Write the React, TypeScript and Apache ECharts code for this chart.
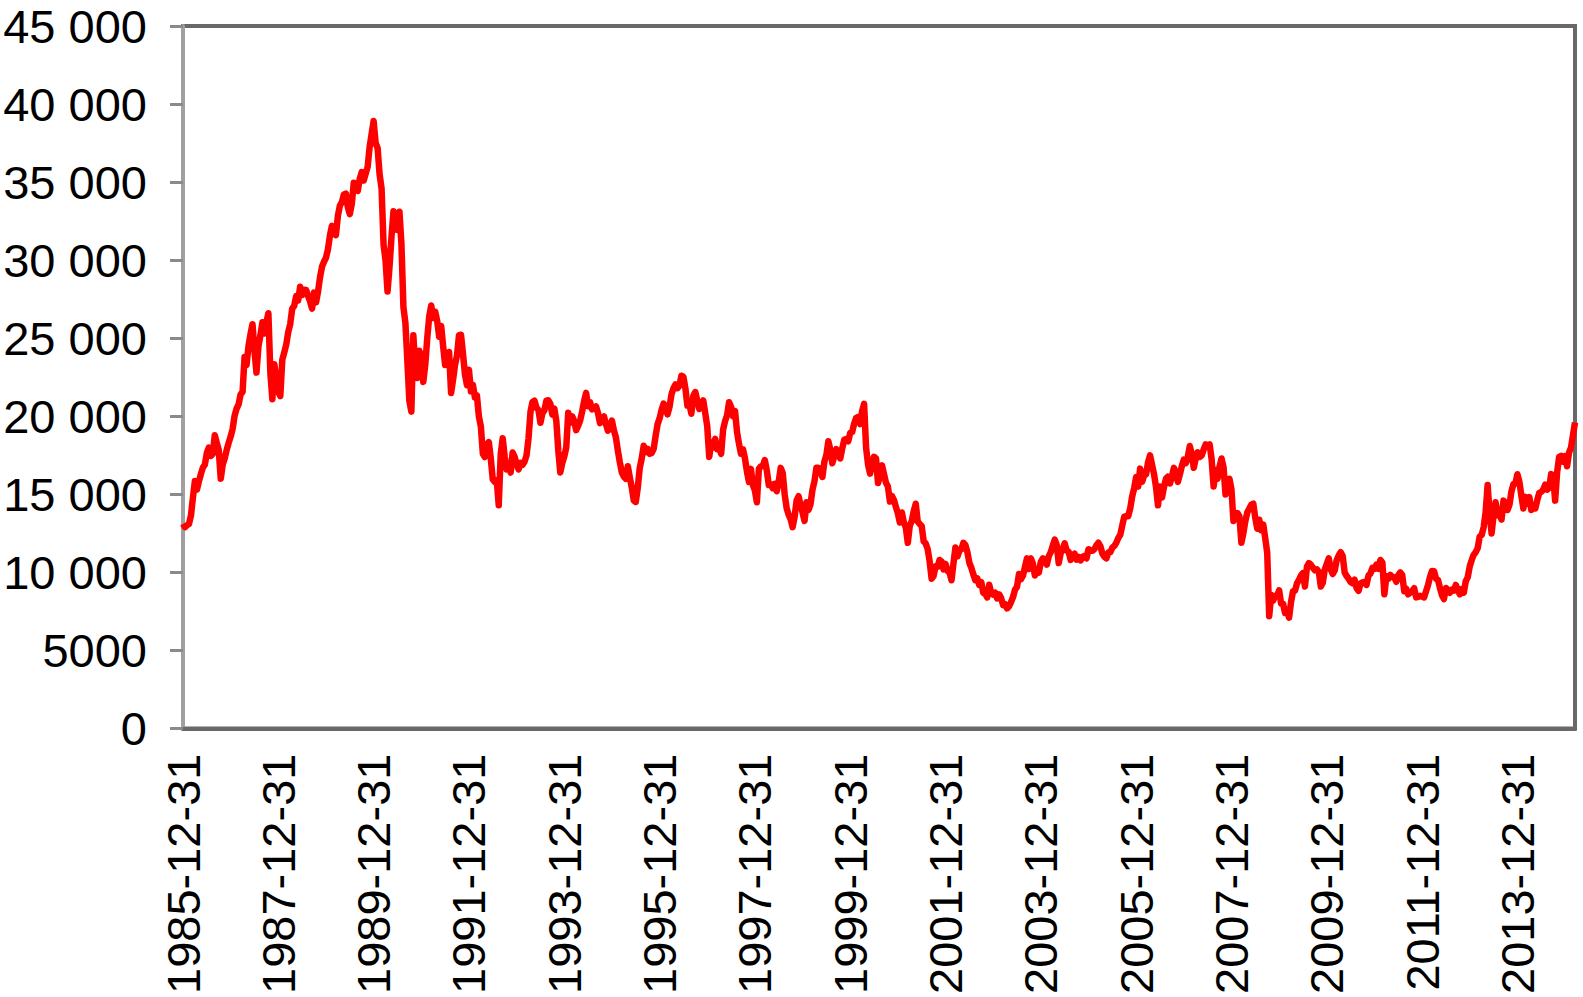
import React, { useEffect, useRef } from "react";
import * as echarts from "echarts";

// Nikkei-style index, semi-monthly points (mid-month extreme, month end), starting 1985-12-31
const startValue = [13113];
const v1986 = [12900, 13024, 13100, 13641, 14800, 15860, 15300, 15825, 16300, 16716, 16900, 17654, 18000, 17461, 17600, 18787, 18300, 17853, 16000, 16911, 17300, 17852, 18300, 18701];
const v1987 = [19200, 20048, 20500, 20767, 21400, 21567, 23800, 23275, 24500, 25264, 25900, 24176, 22800, 24488, 25200, 26029, 25300, 26011, 26600, 22765, 21100, 23330, 22300, 21564];
const v1988 = [21300, 23622, 24100, 24600, 25400, 25917, 26900, 27080, 27700, 27423, 28300, 27769, 28100, 28094, 27700, 27367, 26900, 27924, 27300, 27986, 28900, 29579, 29900, 30159];
const v1989 = [30700, 31581, 32200, 31986, 31600, 32839, 33500, 33713, 34200, 34267, 33400, 32949, 33600, 34954, 34900, 34431, 35200, 35637, 35100, 35549, 36000, 37269, 38100, 38916];
const v1990 = [37500, 37189, 35500, 34592, 31000, 29980, 28000, 29585, 31500, 33131, 32500, 31940, 33100, 31036, 27000, 25979, 23500, 20984, 20300, 25194, 23000, 22455, 24200, 23849];
const v1991 = [22200, 23293, 25000, 26409, 27100, 26292, 26700, 26111, 25100, 25790, 24500, 23291, 23500, 24121, 21500, 22336, 23300, 23916, 25200, 25222, 24000, 22687, 22000, 22984];
const v1992 = [21600, 22023, 21200, 21339, 20000, 19346, 17600, 17391, 18200, 18348, 17300, 15952, 15800, 15910, 14300, 17555, 18600, 17399, 16600, 16767, 16400, 17684, 17400, 16925];
const v1993 = [16600, 17024, 16900, 17098, 17500, 18591, 20300, 20919, 21000, 20552, 20400, 19590, 20200, 20380, 21000, 21027, 20800, 20106, 20500, 19704, 17800, 16408, 17000, 17417];
const v1994 = [18000, 20229, 19600, 19997, 19700, 19112, 19400, 19725, 20300, 20974, 21500, 20644, 20900, 20449, 20500, 20629, 20200, 19564, 19800, 19990, 19500, 19076, 19300, 19723];
const v1995 = [19100, 18650, 17800, 17053, 16400, 16140, 16000, 16807, 16100, 15437, 14600, 14517, 15400, 16678, 17300, 18117, 17700, 17913, 17600, 17655, 17900, 18744, 19500, 19868];
const v1996 = [20400, 20813, 20600, 20125, 20600, 21407, 21800, 22041, 21800, 21956, 22600, 22531, 21800, 20693, 20800, 20167, 21300, 21556, 21000, 20467, 20700, 21020, 20200, 19361];
const v1997 = [17400, 18330, 18000, 18557, 17900, 18003, 17600, 19151, 19700, 20069, 20900, 20605, 20000, 20331, 19000, 18229, 17600, 17888, 17300, 16459, 15800, 16636, 15600, 15259];
const v1998 = [14500, 16628, 16800, 16832, 17200, 16527, 15600, 15641, 15400, 15671, 15200, 15830, 16700, 16379, 15000, 14108, 13700, 13406, 12900, 13564, 14600, 14883, 14300, 13842];
const v1999 = [13300, 14499, 14000, 14368, 15300, 15837, 16700, 16702, 16500, 16112, 17100, 17530, 18400, 17862, 17000, 17437, 17900, 17605, 17300, 17942, 18500, 18558, 18400, 18934];
const v2000 = [19000, 19540, 19900, 19960, 19500, 20337, 20800, 17974, 16900, 16332, 17000, 17411, 17300, 15727, 16200, 16861, 16300, 15747, 15500, 14539, 14900, 14649, 14200, 13786];
const v2001 = [13200, 13843, 13200, 12884, 11900, 12999, 13300, 13934, 14400, 13262, 13100, 12969, 12000, 11861, 11500, 10714, 9600, 9775, 10400, 10367, 10800, 10697, 10200, 10543];
const v2002 = [10100, 9998, 9500, 10588, 11600, 11025, 11400, 11493, 11900, 11764, 11300, 10622, 10300, 9877, 9500, 9619, 9200, 9383, 8700, 8640, 8400, 9216, 8700, 8579];
const v2003 = [8700, 8340, 8600, 8363, 7900, 7973, 7700, 7831, 8100, 8425, 8900, 9083, 9900, 9563, 9800, 10344, 10900, 10219, 10900, 10560, 9800, 10101, 10000, 10677];
const v2004 = [10900, 10784, 10500, 11042, 11300, 11715, 12100, 11762, 10600, 11237, 11500, 11859, 11400, 11326, 10800, 11082, 11200, 10824, 11000, 10771, 11000, 11069, 10900, 11489];
const v2005 = [11400, 11388, 11500, 11741, 11900, 11669, 11200, 11009, 10900, 11277, 11300, 11584, 11700, 11900, 12200, 12414, 13000, 13574, 13600, 13607, 14100, 14873, 15400, 16111];
const v2006 = [15500, 16650, 15800, 16206, 16300, 17060, 17500, 16907, 16300, 15467, 14300, 15505, 14800, 15457, 16000, 16141, 15700, 16128, 16700, 16399, 15800, 16274, 16800, 17226];
const v2007 = [17000, 17383, 18100, 17604, 16700, 17288, 17700, 17400, 17500, 17876, 18200, 18138, 18200, 17249, 15500, 16569, 16000, 16786, 17300, 16737, 15000, 15681, 16000, 15308];
const v2008 = [13300, 13592, 13800, 13603, 11900, 12526, 13300, 13850, 14100, 14339, 14400, 13481, 12800, 13377, 12700, 13073, 12200, 11260, 7200, 8577, 8200, 8512, 8500, 8860];
const v2009 = [8000, 7994, 7400, 7568, 7100, 8110, 8800, 8828, 9300, 9523, 9800, 9958, 9100, 10357, 10600, 10493, 10300, 10133, 10200, 10035, 9100, 9346, 10200, 10546];
const v2010 = [10900, 10198, 9900, 10126, 10800, 11090, 11300, 11057, 10000, 9769, 9600, 9383, 9300, 9537, 9000, 8824, 9300, 9369, 9400, 9202, 9800, 9937, 10300, 10229];
const v2011 = [10500, 10238, 10800, 10624, 8600, 9755, 9600, 9850, 9700, 9694, 9400, 9816, 10000, 9833, 8800, 8955, 8600, 8700, 8800, 8988, 8400, 8435, 8500, 8455];
const v2012 = [8400, 8803, 9200, 9723, 10100, 10084, 9600, 9521, 9000, 8543, 8300, 9007, 8900, 8695, 8900, 8840, 9200, 8870, 8600, 8928, 8700, 9446, 9700, 10395];
const v2013 = [10800, 11139, 11300, 11559, 12300, 12398, 12900, 13861, 15600, 13775, 12500, 13677, 14500, 13668, 13700, 13389, 14600, 14456, 14000, 14328, 15200, 15662, 15700, 16291];
const v2014 = [15800, 14915, 14100, 14841, 14400, 14828, 14000, 14304, 14100, 14632, 15100, 15162, 15300, 15621, 15300, 15425, 16300, 16174, 14600, 16414, 17400, 17460, 17100, 17451];
const v2015 = [16800, 17674, 18000, 18798, 19600];

const values = [
  ...startValue, ...v1986, ...v1987, ...v1988, ...v1989, ...v1990, ...v1991, ...v1992, ...v1993,
  ...v1994, ...v1995, ...v1996, ...v1997, ...v1998, ...v1999, ...v2000, ...v2001, ...v2002,
  ...v2003, ...v2004, ...v2005, ...v2006, ...v2007, ...v2008, ...v2009, ...v2010, ...v2011,
  ...v2012, ...v2013, ...v2014, ...v2015,
];

// Category dates: 1985-12-31, then the 15th and last day of each month
const startDate = "1985-12-31";
const dates: string[] = [startDate];
for (let y = 1986; dates.length < values.length; y++) {
  for (let m = 1; m <= 12 && dates.length < values.length; m++) {
    const mm = String(m).padStart(2, "0");
    const last = new Date(Date.UTC(y, m, 0)).getUTCDate();
    dates.push(`${y}-${mm}-15`);
    if (dates.length < values.length) dates.push(`${y}-${mm}-${last}`);
  }
}

const yTickLabels = ["0", "5000", "10 000", "15 000", "20 000", "25 000", "30 000", "35 000", "40 000", "45 000"];

export default function App() {
  const ref = useRef<HTMLDivElement>(null);
  useEffect(() => {
    if (!ref.current) return;
    const chart = echarts.init(ref.current, undefined, { renderer: "svg" });
    const font = "'Liberation Sans', Arial, Helvetica, sans-serif";
    chart.setOption({
      animation: false,
      backgroundColor: "#ffffff",
      textStyle: { fontFamily: font },
      grid: {
        left: 183,
        right: 8,
        top: 26,
        bottom: 265,
        containLabel: false,
        show: true,
        borderColor: "#686868",
        borderWidth: 4,
        backgroundColor: "transparent",
      },
      xAxis: {
        type: "category",
        data: dates,
        boundaryGap: false,
        axisLine: { show: true, lineStyle: { color: "#686868", width: 4 } },
        axisTick: { show: false },
        splitLine: { show: false },
        axisLabel: {
          rotate: 90,
          margin: 25,
          fontSize: 47,
          color: "#000000",
          fontFamily: font,
          interval: (_i: number, v: string) => /^\d{3}[13579]-12-31$/.test(v),
        },
      },
      yAxis: {
        type: "value",
        min: 0,
        max: 45000,
        interval: 5000,
        axisLine: { show: true, lineStyle: { color: "#a0a0a0", width: 4 } },
        axisTick: { show: true, inside: false, length: 13, lineStyle: { color: "#8a8a8a", width: 3 } },
        splitLine: { show: false },
        axisLabel: {
          margin: 36,
          fontSize: 47,
          color: "#000000",
          fontFamily: font,
          formatter: (v: number) => yTickLabels[Math.round(v / 5000)] ?? String(v),
        },
      },
      series: [
        {
          type: "line",
          data: values,
          symbol: "none",
          smooth: false,
          lineStyle: { color: "#ff0000", width: 6.5, join: "round" },
          itemStyle: { color: "#ff0000" },
          z: 1,
        },
      ],
    });
    return () => chart.dispose();
  }, []);
  return (
    <div
      ref={ref}
      style={{ position: "fixed", left: 0, top: 0, width: 1583, height: 997, background: "#fff" }}
    />
  );
}
